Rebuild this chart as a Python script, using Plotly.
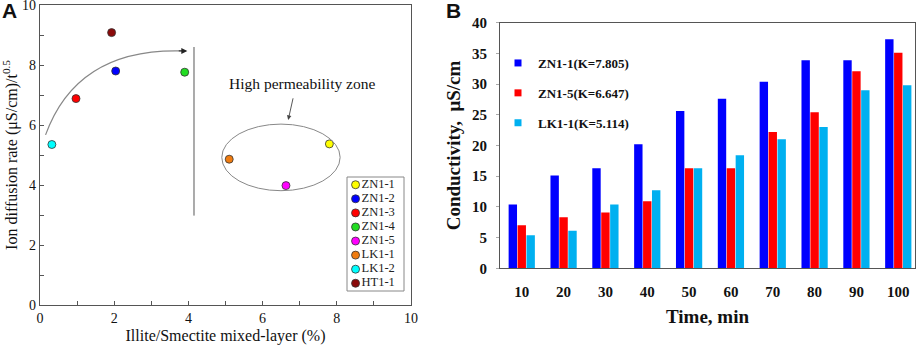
import plotly.graph_objects as go

# ---- Panel A data ----
samples = ["ZN1-1", "ZN1-2", "ZN1-3", "ZN1-4", "ZN1-5", "LK1-1", "LK1-2", "HT1-1"]
illite = [7.80, 2.04, 0.97, 3.90, 6.63, 5.10, 0.32, 1.93]
diffusion = [5.37, 7.80, 6.88, 7.76, 3.98, 4.86, 5.35, 9.08]
sample_colors = ["#FFFF00", "#0000FF", "#FF0000", "#22DD22", "#FF00FF",
                 "#F07C10", "#00FFFF", "#8B0A0A"]

# ---- Panel B data ----
times = [10, 20, 30, 40, 50, 60, 70, 80, 90, 100]
series_names = ["ZN1-1(K=7.805)", "ZN1-5(K=6.647)", "LK1-1(K=5.114)"]
zn1_1 = [10.4, 15.1, 16.3, 20.2, 25.6, 27.6, 30.4, 33.9, 33.9, 37.3]
zn1_5 = [7.0, 8.3, 9.1, 10.9, 16.3, 16.3, 22.2, 25.4, 32.1, 35.1]
lk1_1 = [5.4, 6.1, 10.4, 12.7, 16.3, 18.4, 21.0, 23.0, 29.0, 29.8]
bar_colors = ["#0000FF", "#FF0000", "#00B0F0"]

W, H = 920, 345
def px_x(p):
    return p / W
def px_y(p):
    return 1 - p / H

SERIF = "Liberation Serif"
fig = go.Figure()

# Panel A scatter points
for s, xv, yv, c in zip(samples, illite, diffusion, sample_colors):
    fig.add_trace(go.Scatter(
        x=[xv], y=[yv], mode="markers", name=s, showlegend=False,
        marker=dict(color=c, size=8, line=dict(color="#333333", width=0.8)),
        xaxis="x", yaxis="y"))

# Panel A custom legend (inset axis)
n = len(samples)
fig.add_trace(go.Scatter(
    x=[0] * n, y=list(range(n - 1, -1, -1)), mode="markers+text",
    text=samples, textposition="middle right",
    textfont=dict(family=SERIF, size=12.5, color="#222222"),
    marker=dict(color=sample_colors, size=8, line=dict(color="#333333", width=0.8)),
    showlegend=False, hoverinfo="skip", xaxis="x3", yaxis="y3"))

# Panel B bars
for name, vals, c in zip(series_names, [zn1_1, zn1_5, lk1_1], bar_colors):
    fig.add_trace(go.Bar(
        x=times, y=vals, name=name, marker=dict(color=c, line=dict(width=0)),
        showlegend=False, xaxis="x2", yaxis="y2"))
    fig.add_trace(go.Scatter(
        x=[None], y=[None], mode="markers", name=name, legendgroup=name,
        marker=dict(color=c, symbol="square", size=7),
        xaxis="x2", yaxis="y2"))

axis_line = "#555555"
tickfontA = dict(family=SERIF, size=14, color="#111111")
tickfontB = dict(family=SERIF, size=15, color="#111111", weight="bold")

fig.update_layout(
    width=W, height=H,
    margin=dict(l=0, r=0, t=0, b=0, autoexpand=False),
    paper_bgcolor="white", plot_bgcolor="white",
    bargap=0.36, bargroupgap=0.06, barmode="group",
    xaxis=dict(domain=[px_x(40), px_x(411)], range=[0, 10], dtick=2,
               ticks="inside", ticklen=4, tickcolor=axis_line,
               minor=dict(dtick=1, ticks="inside", ticklen=4, tickcolor=axis_line),
               showline=True, mirror=True, linecolor=axis_line, linewidth=1.2,
               showgrid=False, zeroline=False, tickfont=tickfontA, automargin=False,
               ticklabeloverflow="allow",
               title=dict(text="Illite/Smectite mixed-layer (%)",
                          font=dict(family=SERIF, size=16, color="#111111"),
                          standoff=4),
               anchor="y"),
    yaxis=dict(domain=[px_y(305), px_y(5)], range=[0, 10], dtick=2,
               ticks="inside", ticklen=4, tickcolor=axis_line,
               minor=dict(dtick=1, ticks="inside", ticklen=4, tickcolor=axis_line),
               showline=True, mirror=True, linecolor=axis_line, linewidth=1.2,
               showgrid=False, zeroline=False, tickfont=tickfontA, automargin=False,
               ticklabeloverflow="allow",
               title=dict(text="Ion diffusion rate (μS/cm)/t<sup>0.5</sup>",
                          font=dict(family=SERIF, size=16, color="#111111"),
                          standoff=6),
               anchor="x"),
    xaxis3=dict(domain=[px_x(347), px_x(404)], range=[-0.6, 3.4], visible=False,
                fixedrange=True, anchor="y3", automargin=False),
    yaxis3=dict(domain=[px_y(291), px_y(177)], range=[-0.55, n - 0.45], visible=False,
                fixedrange=True, anchor="x3", automargin=False),
    xaxis2=dict(domain=[px_x(500), px_x(915)], range=[4.8, 104],
                tickvals=times, ticktext=[str(t) for t in times],
                ticks="", showline=True, mirror=True, linecolor=axis_line,
                linewidth=1.2, showgrid=False, zeroline=False, tickfont=tickfontB,
                ticklabelstandoff=10, automargin=False, ticklabeloverflow="allow",
                title=dict(text="Time, min",
                           font=dict(family=SERIF, size=19, color="#111111", weight="bold"),
                           standoff=10),
                anchor="y2"),
    yaxis2=dict(domain=[px_y(268.3), px_y(22.7)], range=[0, 40], dtick=5,
                ticks="outside", ticklen=3, tickcolor="#aaaaaa",
                showline=True, mirror=True, linecolor=axis_line, linewidth=1.2,
                showgrid=False, zeroline=False, tickfont=tickfontB,
                ticklabelstandoff=6, automargin=False, ticklabeloverflow="allow",
                title=dict(text="Conductivity,  μS/cm",
                           font=dict(family=SERIF, size=19, color="#111111", weight="bold"),
                           standoff=6),
                anchor="x2"),
    legend=dict(x=px_x(498), y=px_y(48), xanchor="left", yanchor="top",
                bgcolor="rgba(0,0,0,0)", borderwidth=0,
                font=dict(family=SERIF, size=13, color="#111111", weight="bold"),
                tracegroupgap=10, itemwidth=30),
)

# legend box for panel A
fig.add_shape(type="rect", xref="x3 domain", yref="y3 domain",
              x0=0, x1=1, y0=0, y1=1, line=dict(color="#888888", width=1))

# vertical separator line
fig.add_shape(type="line", xref="x", yref="y", x0=4.15, x1=4.15, y0=2.98, y1=8.6,
              line=dict(color="#AAAAAA", width=2))
# ellipse for high permeability zone
fig.add_shape(type="circle", xref="x", yref="y", x0=4.9, x1=8.09, y0=3.81, y1=6.03,
              line=dict(color="#888888", width=1))
# curved trend arrow
fig.add_shape(type="path", xref="x", yref="y",
              path="M 0.15,5.67 Q 1.0,8.58 3.85,8.47",
              line=dict(color="#888888", width=1.2))
fig.add_annotation(x=3.97, y=8.47, ax=3.7, ay=8.47, xref="x", yref="y",
                   axref="x", ayref="y", text="", showarrow=True,
                   arrowhead=2, arrowsize=1.2, arrowwidth=1, arrowcolor="#222222")
# text and pointer
fig.add_annotation(x=7.05, y=7.39, xref="x", yref="y", text="High permeability zone",
                   showarrow=False, font=dict(family=SERIF, size=15.5, color="#111111"))
fig.add_annotation(x=6.69, y=6.17, ax=6.83, ay=6.94, xref="x", yref="y",
                   axref="x", ayref="y", text="", showarrow=True,
                   arrowhead=2, arrowsize=1, arrowwidth=0.9, arrowcolor="#444444")

# panel labels
fig.add_annotation(x=0, y=1, xref="paper", yref="paper", xanchor="left", yanchor="top",
                   text="<b>A</b>", showarrow=False, yshift=3,
                   font=dict(family="Liberation Sans", size=21, color="#111111"))
fig.add_annotation(x=px_x(444), y=1, xref="paper", yref="paper", xanchor="left",
                   yanchor="top", text="<b>B</b>", showarrow=False, yshift=3,
                   font=dict(family="Liberation Sans", size=21, color="#111111"))

fig.write_html("out.html", config={"displayModeBar": False},
               post_script="document.body.style.margin='0';")
